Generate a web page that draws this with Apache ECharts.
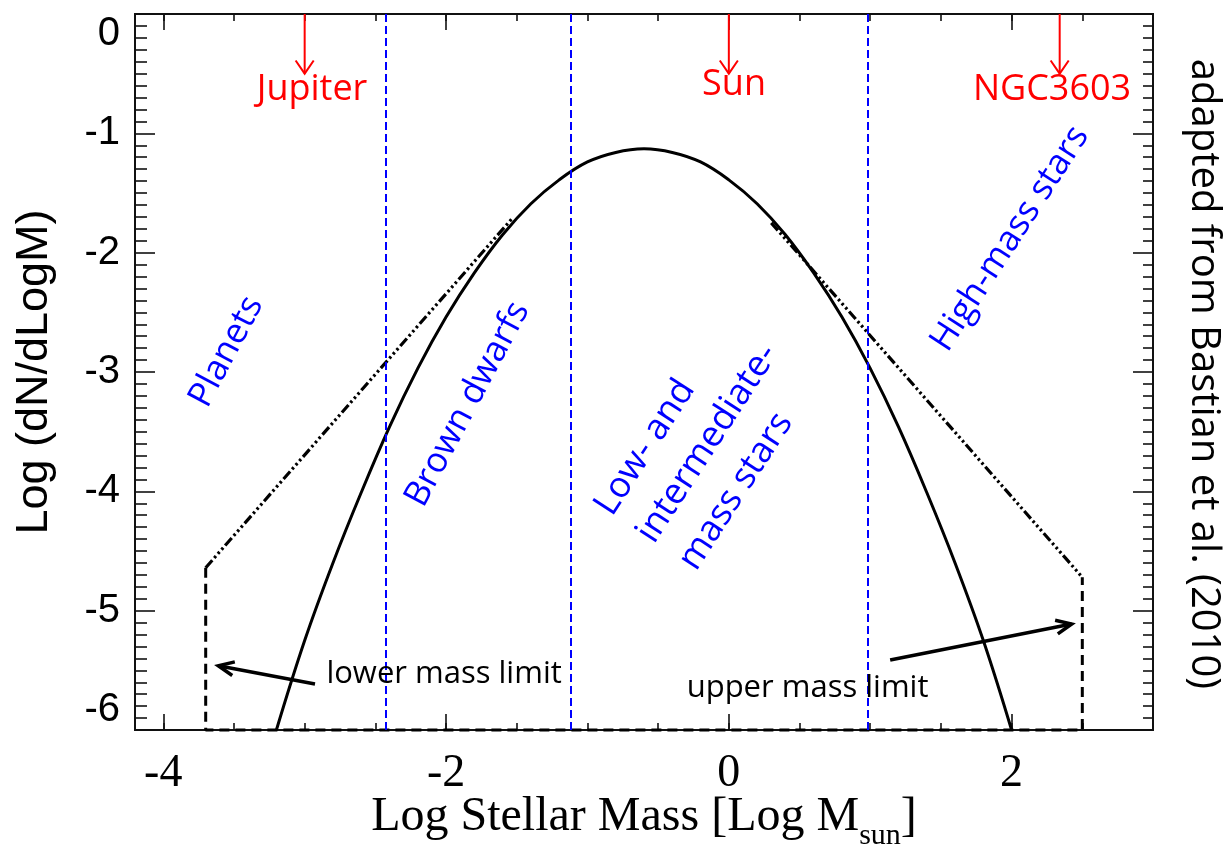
<!DOCTYPE html>
<html>
<head>
<meta charset="utf-8">
<script src="https://cdn.jsdelivr.net/npm/echarts@6/dist/echarts.min.js"></script>
<style>
  html, body { margin: 0; padding: 0; background: #ffffff; }
  #chart { width: 1227px; height: 848px; }
</style>
</head>
<body>
<div id="chart"></div>
<script>
// Log-normal initial mass function (solid curve)
const imfLogMass = [-3.2, -3.0, -2.8, -2.6, -2.4, -2.2, -2.0, -1.8, -1.6, -1.4, -1.2, -1.0, -0.8, -0.6,
                    -0.4, -0.2, 0.0, 0.2, 0.4, 0.6, 0.8, 1.0, 1.2, 1.4, 1.6, 1.8, 2.0];
const imfLogDensity = [-6.00, -5.25, -4.60, -4.01, -3.46, -2.97, -2.54, -2.17, -1.85, -1.59, -1.39, -1.24, -1.16, -1.13,
                       -1.16, -1.24, -1.39, -1.59, -1.85, -2.17, -2.54, -2.97, -3.46, -4.01, -4.60, -5.25, -6.00];

// Power-law tails (dash-dot-dot-dot)
const lowTailMass = [-3.7, -1.53];
const lowTailDensity = [-4.64, -1.71];
const highTailMass = [0.30, 2.5];
const highTailDensity = [-1.75, -4.72];

// Lower / upper mass limits (dashed box)
const limitMass = [-3.7, -3.7, 2.5, 2.5];
const limitDensity = [-4.64, -6.0, -6.0, -4.72];

// Region boundaries (blue dashed verticals)
const boundaryMass = [-2.43, -1.12, 0.98];

// Reference objects marked at the top
const objectNames = ['Jupiter', 'Sun', 'NGC3603'];
const objectMass = [-3.0, 0.0, 2.34];

// Axis ticks
const xMajorTicks = [-4, -2, 0, 2];
const xMinorTicks = [-4, -3.5, -3, -2.5, -2, -1.5, -1, -0.5, 0, 0.5, 1, 1.5, 2, 2.5, 3];

const pairs = (xs, ys) => xs.map((x, i) => [x, ys[i]]);

const BLUE = '#0000ff';
const RED = '#ff0000';
const INK = '#111111';
const LABEL_FONT = '"Open Sans", "Noto Sans", sans-serif';
const SERIF = '"Liberation Serif", "DejaVu Serif", serif';
const SANS = '"Liberation Sans", Arial, sans-serif';
const TAIL_DASH = [10, 3, 2.5, 3, 2.5, 3, 2.5, 3];

const GRID = { left: 135, top: 14, width: 1018, height: 716 };

// Free text placed in data coordinates
const annotations = [
  { text: 'Planets', at: [-3.553, -2.83], rot: 62, color: BLUE, size: 35 },
  { text: 'Brown dwarfs', at: [-1.848, -3.27], rot: 62, color: BLUE, size: 35 },
  { text: 'Low- and\nintermediate-\nmass stars', at: [-0.59, -4.40], rot: 57, color: BLUE, size: 36, align: 'left', lineHeight: 50 },
  { text: 'High-mass stars', at: [1.989, -1.883], rot: 57, color: BLUE, size: 35 },
  { text: objectNames[0], at: [-2.948, -0.634], rot: 0, color: RED, size: 36 },
  { text: objectNames[1], at: [0.037, -0.592], rot: 0, color: RED, size: 36 },
  { text: objectNames[2], at: [2.286, -0.634], rot: 0, color: RED, size: 36 },
  { text: 'lower mass limit', at: [-2.014, -5.529], rot: 0, color: '#000', size: 31 },
  { text: 'upper mass limit', at: [0.557, -5.646], rot: 0, color: '#000', size: 31 }
];

// Arrows: [fromX, fromY, toX, toY]
const redArrows = objectMass.map(m => [m, 0, m, -0.5]);
const blackArrows = [
  [-2.927, -5.615, -3.611, -5.462],
  [1.141, -5.414, 2.425, -5.112]
];

function arrowSeries(items, color, width, head, spread) {
  return {
    type: 'custom',
    coordinateSystem: 'cartesian2d',
    clip: false,
    silent: true,
    z: 5,
    data: items,
    renderItem(params, api) {
      const p0 = api.coord([api.value(0), api.value(1)]);
      const p1 = api.coord([api.value(2), api.value(3)]);
      const a = Math.atan2(p1[1] - p0[1], p1[0] - p0[0]);
      const l = [p1[0] - head * Math.cos(a - spread), p1[1] - head * Math.sin(a - spread)];
      const r = [p1[0] - head * Math.cos(a + spread), p1[1] - head * Math.sin(a + spread)];
      return {
        type: 'group',
        children: [
          { type: 'line', shape: { x1: p0[0], y1: p0[1], x2: p1[0], y2: p1[1] },
            style: { stroke: color, lineWidth: width } },
          { type: 'polyline', shape: { points: [l, p1, r] },
            style: { stroke: color, lineWidth: width, fill: null, lineJoin: 'miter' } }
        ]
      };
    }
  };
}

// X-axis title with a subscript, laid out from measured text widths
function xTitleGraphic() {
  const parts = [
    { text: 'Log Stellar Mass [Log M', size: 48, drop: 0 },
    { text: 'sun', size: 30, drop: 12 },
    { text: ']', size: 48, drop: 0 }
  ];
  const ctx = document.createElement('canvas').getContext('2d');
  parts.forEach(p => {
    ctx.font = p.size + 'px ' + SERIF;
    p.width = ctx.measureText(p.text).width;
  });
  const total = parts.reduce((s, p) => s + p.width, 0);
  const baseline = 834;
  let x = GRID.left + GRID.width / 2 - total / 2;
  return parts.map(p => {
    const el = {
      type: 'text',
      x: x,
      y: baseline + p.drop - 0.3375 * p.size,
      style: {
        text: p.text, fontFamily: SERIF, fontSize: p.size, fill: '#000',
        align: 'left', verticalAlign: 'middle'
      }
    };
    x += p.width;
    return el;
  });
}

const frameLine = { show: true, onZero: false, lineStyle: { color: INK, width: 2 } };

function xAxisDef(position, ticks, len, withLabels) {
  return {
    type: 'value',
    position: position,
    min: -4.2,
    max: 3,
    axisLine: frameLine,
    splitLine: { show: false },
    axisTick: { show: true, inside: true, length: len, customValues: ticks,
                lineStyle: { color: INK, width: 1.6 } },
    axisLabel: withLabels ? {
      show: true, customValues: xMajorTicks, margin: 21,
      fontFamily: SERIF, fontSize: 46, color: '#000'
    } : { show: false }
  };
}

function yAxisDef(position, withLabels, minorLen) {
  return {
    type: 'value',
    position: position,
    min: -6,
    max: 0,
    interval: 1,
    axisLine: frameLine,
    splitLine: { show: false },
    minorSplitLine: { show: false },
    axisTick: { show: true, inside: true, length: 20, lineStyle: { color: INK, width: 1.6 } },
    minorTick: { show: true, splitNumber: 10, length: minorLen, lineStyle: { color: INK, width: 1.6 } },
    axisLabel: withLabels ? {
      show: true, margin: 15,
      fontFamily: SANS, fontSize: 40, color: '#000',
      verticalAlignMinLabel: 'bottom', verticalAlignMaxLabel: 'top'
    } : { show: false },
    name: withLabels ? 'Log (dN/dLogM)' : '',
    nameLocation: 'middle',
    nameRotate: 90,
    nameGap: 78,
    nameTextStyle: { fontFamily: SANS, fontSize: 45, color: '#000' }
  };
}

const chart = echarts.init(document.getElementById('chart'), null, { renderer: 'canvas' });

chart.setOption({
  animation: false,
  backgroundColor: '#ffffff',
  grid: Object.assign({ outerBoundsMode: 'none', containLabel: false }, GRID),
  xAxis: [
    xAxisDef('bottom', xMajorTicks, 16, true),
    xAxisDef('bottom', xMinorTicks, 7, false),
    xAxisDef('top', xMajorTicks, 16, false),
    xAxisDef('top', xMinorTicks, 7, false)
  ],
  yAxis: [
    yAxisDef('left', true, 12),
    yAxisDef('right', false, 10)
  ],
  graphic: [{
    type: 'text',
    x: 1203,
    y: 374,
    rotation: -Math.PI / 2,
    style: {
      text: 'adapted from Bastian et al. (2010)',
      fontFamily: LABEL_FONT, fontSize: 40, fill: '#000',
      align: 'center', verticalAlign: 'middle'
    }
  }].concat(xTitleGraphic()),
  series: [
    {
      name: 'boundaries',
      type: 'line',
      data: [],
      silent: true,
      markLine: {
        silent: true,
        symbol: 'none',
        label: { show: false },
        lineStyle: { color: BLUE, type: [8, 4], width: 2 },
        data: boundaryMass.map(v => ({ xAxis: v }))
      }
    },
    {
      name: 'log-normal IMF',
      type: 'line',
      data: pairs(imfLogMass, imfLogDensity),
      smooth: 0.4,
      showSymbol: false,
      symbol: 'none',
      lineStyle: { color: '#000', width: 3 },
      z: 3
    },
    {
      name: 'low-mass power law',
      type: 'line',
      data: pairs(lowTailMass, lowTailDensity),
      symbol: 'none',
      lineStyle: { color: '#000', width: 3.2, type: TAIL_DASH },
      z: 3
    },
    {
      name: 'high-mass power law',
      type: 'line',
      data: pairs(highTailMass, highTailDensity),
      symbol: 'none',
      lineStyle: { color: '#000', width: 3.2, type: TAIL_DASH },
      z: 3
    },
    {
      name: 'mass limits',
      type: 'line',
      data: pairs(limitMass, limitDensity),
      symbol: 'none',
      clip: false,
      lineStyle: { color: '#000', width: 3, type: [10, 6] },
      z: 3
    },
    arrowSeries(redArrows, RED, 2, 16, 0.6),
    arrowSeries(blackArrows, '#000', 3.5, 17, 0.42),
    {
      name: 'annotations',
      type: 'custom',
      coordinateSystem: 'cartesian2d',
      clip: false,
      silent: true,
      z: 6,
      data: annotations.map((a, i) => [a.at[0], a.at[1], i]),
      renderItem(params, api) {
        const a = annotations[api.value(2)];
        const p = api.coord([api.value(0), api.value(1)]);
        return {
          type: 'text',
          x: p[0],
          y: p[1],
          rotation: a.rot * Math.PI / 180,
          style: {
            text: a.text,
            fill: a.color,
            fontFamily: LABEL_FONT,
            fontSize: a.size,
            lineHeight: a.lineHeight || a.size * 1.2,
            align: a.align || 'center',
            verticalAlign: 'middle'
          }
        };
      }
    }
  ]
});
</script>
</body>
</html>
